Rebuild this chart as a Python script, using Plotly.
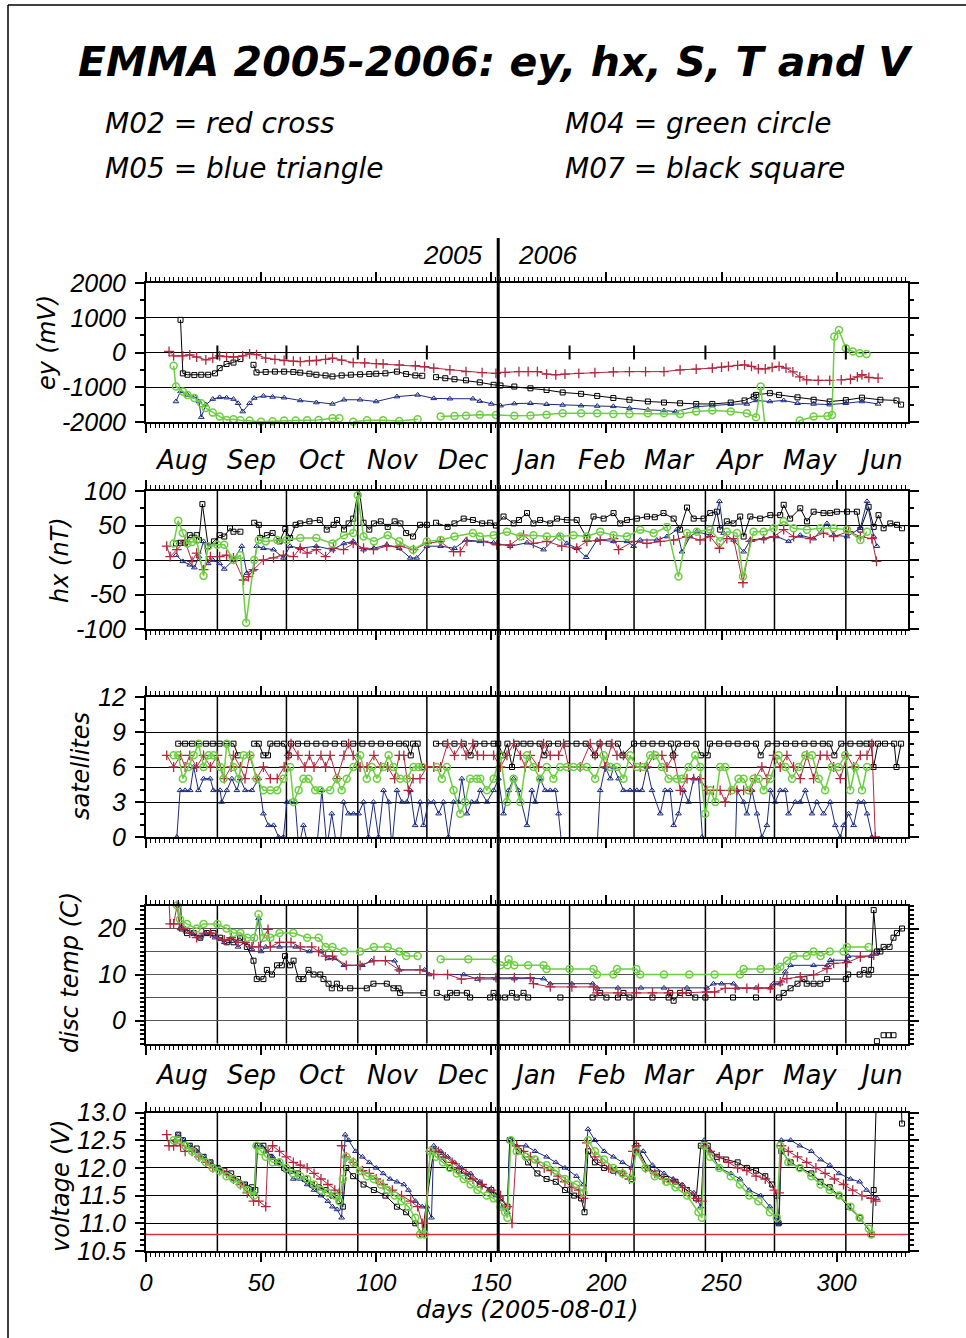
import plotly.graph_objects as go

W, H = 966, 1338
FN = "Liberation Sans"
FW = "DejaVu Sans"

# ---------------- data ----------------
month_edges = [0, 31, 61, 92, 122, 153, 184, 212, 243, 273, 304, 334]
month_names = ["Aug", "Sep", "Oct", "Nov", "Dec", "Jan", "Feb", "Mar", "Apr", "May", "Jun"]
year_boundary = 153
volt_threshold = 10.8
temp_grid = [0, 5, 10, 15, 20]
ey_ticks = [-2000, -1000, 0, 1000, 2000]
ey_ticklabels = ["-2000", "-1000", "0", "1000", "2000"]
hx_ticks = [-100, -50, 0, 50, 100]
hx_ticklabels = ["-100", "-50", "0", "50", "100"]

# ey (mV)
ey_m02 = [(10,30),(12,-100),(16,-100),(19,-70),(22,-130),(26,-210),(29,-160),(32,-100),(35,-120),(38,-130),(42,-100),(45,-40),(48,-60),(52,-160),(56,-200),(60,-230),(64,-250),(67,-260),(71,-240),(74,-230),(78,-200),(81,-160),(85,-220),(90,-290),(95,-300),(100,-320),(103,-330),(110,-355),(117,-380),(121,-410),(125,-450),(132,-500),(139,-550),(146,-580),(152,-600),(156,-570),(162,-550),(166,-550),(170,-550),(174,-620),(178,-640),(182,-620),(188,-600),(195,-580),(203,-560),(210,-550),(217,-550),(225,-550),(232,-500),(239,-480),(246,-450),(250,-420),(253,-400),(257,-370),(260,-355),(263,-400),(266,-470),(269,-470),(272,-430),(275,-400),(278,-450),(281,-560),(284,-700),(287,-790),(292,-800),(297,-800),(299,None),(302,-790),(306,-770),(309,-700),(311,-640),(314,-720),(318,-740)]
ey_m07 = [(15,940),(16,-600),(18,-640),(21,-650),(24,-640),(27,-640),(30,-600),(32,-450),(35,-330),(38,-290),(41,-190),(43,None),(46.7,-355),(48,-575),(52,-560),(56,-550),(60,-550),(64,-560),(67,-580),(71,-610),(74,-640),(78,-660),(81,-690),(85,-660),(89,-640),(93,-630),(97,-620),(100,-610),(104,-600),(109,-550),(113,-620),(117,-660),(120,-670),(123,None),(126,-710),(130,-740),(134,-770),(139,-800),(145,-860),(151,-930),(154,-950),(160,-980),(167,-1030),(174,-1080),(181,-1150),(189,-1190),(196,-1250),(203,-1310),(210,-1360),(218,-1410),(225,-1440),(232,-1460),(239,-1480),(246,-1480),(254,-1440),(260,-1380),(264,-1270),(265,-1220),(271,-1170),(275,-1220),(283,-1290),(290,-1360),(297,-1410),(304,-1370),(311,-1300),(319,-1360),(326,-1380),(328,-1500)]
ey_m05 = [(13,-1410),(15,-1120),(18,-1220),(21,-1270),(23,-1410),(24,-1860),(26,-1500),(29,-1340),(32,-1290),(35,-1300),(38,-1340),(40,-1460),(42,-1700),(45,-1460),(47,-1310),(51,-1250),(55,-1280),(60,-1300),(67,-1380),(74,-1440),(81,-1480),(86,-1360),(93,-1360),(100,-1410),(109,-1270),(118,-1220),(125,-1320),(132,-1330),(142,-1330),(145,-1400),(150,-1480),(154,-1530),(160,-1470),(167,-1460),(174,-1490),(181,-1510),(189,-1530),(196,-1540),(203,-1550),(210,-1600),(218,-1650),(225,-1670),(230,-1700),(239,-1560),(246,-1520),(254,-1490),(261,-1480),(265,-1380),(271,-1410),(277,-1380),(283,-1460),(290,-1480),(297,-1500),(304,-1460),(311,-1410),(318,-1480)]
ey_m04 = [(12,-380),(13,-980),(16,-1120),(18,-1220),(21,-1310),(24,-1460),(26,-1600),(29,-1730),(32,-1840),(35,-1940),(38,-1920),(41,-1950),(45,-1960),(50,-1990),(55,-1980),(60,-1960),(65,-1960),(70,-1950),(75,-1940),(81,-1890),(84,-1890),(86,None),(90,-1990),(96,-1950),(103,-1950),(110,-1970),(118,-1920),(121,None),(128,-1840),(134,-1830),(139,-1820),(145,-1790),(152,-1800),(160,-1820),(167,-1810),(174,-1790),(181,-1750),(189,-1750),(196,-1750),(203,-1770),(210,-1770),(218,-1750),(225,-1750),(232,-1770),(239,-1700),(246,-1670),(254,-1700),(261,-1750),(265,-1860),(267,-980),(269,-2180),(275,-2200),(278,-2250),(281,-2150),(284,-1960),(290,-1840),(296,-1830),(298,-1800),(299,460),(301,650),(304,125),(307,30),(310,-20),(313,-40)]

# hx (nT)
hx_m07 = [(13,24),(15,25),(17,25),(19,36),(22,36),(23,29),(24.5,81),(27,20),(29.5,27),(32,36),(34,34),(36.5,46),(38,41),(41,41),(43,None),(47,54),(49,51),(49.6,32),(52.5,36),(55,39),(58,27),(60.5,45),(62.6,32),(65,51),(67,53),(71,56),(75.5,58),(78.5,44),(81.5,51),(83,58),(86,44),(88,53),(90,60),(92.5,106),(94.5,54),(97,44),(99,53),(102,56),(105,48),(108,56),(110.5,53),(113,39),(116,34),(119,51),(122,51),(124,None),(126,54),(131,48),(134,53),(138,60),(142,58),(146,53),(149.5,54),(152,50),(155.3,63),(159.7,53),(162,58),(165.5,68),(168.3,53),(171.2,58),(175.6,53),(178.5,60),(182.8,58),(187.1,58),(191.5,32),(194.4,63),(198.8,60),(203.1,68),(206,53),(208.9,58),(213.2,60),(217.6,63),(221,62),(224.8,68),(229.2,60),(232,44),(235,76),(237.9,60),(242.2,60),(245.1,68),(248,70),(249.4,44),(252.3,56),(255.2,53),(258.1,63),(259.6,34),(262.5,63),(266.8,60),(271.2,65),(275.5,65),(277,80),(279.8,60),(284.2,75),(287.1,56),(290,70),(294.3,68),(297.2,68),(300.1,70),(304.5,70),(308.8,70),(310.3,44),(313.9,77),(316.1,48),(318.2,65),(320.4,46),(323.3,53),(326.2,51),(328.4,46)]
hx_m05 = [(13,7),(16,-2),(19,-7),(21,-11),(23,5),(25,27),(27,-5),(29,0),(32,-5),(34,-13),(38,0),(41.6,20),(43.8,-19),(46.7,-14),(48.1,20),(51,17),(55.4,15),(59.7,3),(62.6,20),(67,17),(74,20),(81,15),(86,24),(90,27),(94.5,15),(99,17),(104.6,22),(110,17),(114.8,3),(117.6,3),(122,20),(128,20),(134,17),(139,29),(145,27),(151,25),(158.2,20),(165.5,25),(172.7,15),(179.2,36),(182.8,24),(187.1,17),(191.2,4),(195.9,29),(203.1,27),(208.9,27),(211.8,20),(214.7,29),(221.9,29),(226.3,34),(230.6,44),(232.8,12),(236.4,34),(239.3,41),(245.1,36),(249.1,85),(250.9,39),(255.2,29),(259.6,12),(262.5,29),(268.3,31),(274,34),(279.1,27),(284.2,36),(290,31),(295.8,53),(298.7,36),(304.5,34),(310.3,46),(313.2,85),(316.1,34),(317.5,20)]
hx_m02 = [(9,20),(10.5,5),(13.4,15),(17,27),(20,-2),(22,10),(25,-14),(28,5),(32,5),(35,7),(38,3),(42.4,-29),(44.5,-24),(46.7,-14),(51,0),(55.4,3),(59.7,7),(64,5),(67,17),(70,10),(74,15),(78,5),(81.4,17),(85.8,15),(90,24),(94.5,17),(98.8,15),(104.6,20),(110.4,20),(116.2,15),(122,24),(127.8,27),(133.6,12),(136.5,12),(139.4,27),(146.6,27),(152.4,22),(158.2,22),(164,36),(168.3,24),(174.1,27),(180.6,20),(187.1,17),(191.5,27),(197.3,29),(203.1,31),(205.3,15),(211.8,27),(217.6,24),(223.4,27),(229.2,29),(235,34),(240.7,29),(245.1,34),(249.1,17),(252.3,31),(255.2,31),(259.3,-33),(262.5,27),(268.3,31),(272.6,34),(277,44),(281.3,34),(288.5,31),(294.3,39),(298.7,34),(305.2,41),(310.3,34),(315.3,31),(317.3,-2)]
hx_m04 = [(12,24),(14,57),(16,39),(18,24),(20,26),(22,29),(25,-23),(27,20),(31,22),(34,22),(38,0),(41,7),(43.5,-91),(47,0),(49,29),(52,27),(57,29),(61,29),(67,32),(74,32),(81,24),(86,36),(90,39),(92,94),(94.5,34),(99,27),(105,36),(110,27),(116,15),(122,27),(128,29),(134,34),(142,39),(145,34),(151,36),(156.8,41),(162.6,34),(168.3,36),(174.1,34),(179.9,34),(185.7,36),(191.5,34),(197.3,41),(203.1,36),(208.9,34),(214.7,44),(220.5,39),(226.3,48),(231.3,-24),(235,39),(239.3,41),(245.1,44),(249.4,27),(252.3,41),(256.7,39),(259.3,-24),(263.9,41),(268.3,41),(272.6,46),(277,56),(281.3,46),(287.1,44),(292.9,46),(298.7,46),(304.5,44),(310.3,29),(313.2,41)]

# satellites
sat_m07 = [(14,8),(17,8),(20,8),(23,8),(26,8),(29,8),(32,8),(35,8),(38,8),(40,7),(42,None),(47,8),(49,8),(51,7),(53,7),(54,8),(57,8),(60,8),(62,7),(63,8),(66,8),(70,8),(74,8),(78,8),(82,8),(86,8),(90,8),(94,8),(98,8),(102,8),(106,8),(110,8),(113,8),(115,7),(116,8),(118,8),(120,6),(123,None),(126,8),(130,8),(134,8),(138,8),(141,7),(143,8),(147,8),(151,8),(153,8),(155,7),(157,8),(159,6),(161,8),(164,8),(167,8),(171,8),(173,7),(175,8),(179,8),(183,8),(187,8),(191,8),(195,7),(197,8),(201,8),(205,8),(207,7),(212,8),(216,8),(220,8),(224,8),(228,8),(229,7),(231,8),(235,8),(239,8),(241,7),(244,7),(245,8),(249,8),(253,8),(257,8),(261,8),(265,8),(267,7),(270,8),(274,8),(278,8),(282,8),(286,8),(290,8),(294,8),(297,8),(299,7),(302,8),(306,8),(310,8),(313,8),(315,8),(316,6),(318,8),(321,8),(325,8),(326,6),(328,8)]
sat_m02 = [(9,7),(12,6),(15,7),(17,6),(19,7),(22,6),(25,7),(28,6),(31,7),(34,5),(37,6),(38,7),(41,6),(43,5),(45,7),(48,5),(51,6),(54,5),(57,5),(60,6),(62,7),(63,8),(66,7),(69,6),(71,7),(73,6),(76,7),(78,6),(80,7),(83,5),(86,7),(88,8),(90,7),(93,6),(96,6),(99,7),(102,6),(105,6),(108,5),(110,7),(112,7),(114,4),(116,5),(119,5),(122,6),(125,6),(128,6),(131,8),(134,7),(137,8),(139,7),(142,8),(144,7),(146.6,7),(151,7),(153.9,6),(156.8,7),(159.7,8),(162.6,7),(164.7,6),(166.9,7),(170.5,6),(172.7,8),(175.6,7),(179.2,7),(181.4,8),(183.6,6),(188.6,6),(193,8),(195.1,7),(197.3,8),(199.5,6),(202.4,8),(204.6,7),(207.4,7),(211.8,6),(214.7,6),(217.6,6),(220.5,7),(224.1,7),(226.3,6),(229.2,7),(232.1,4),(235,5),(237.9,5),(240.7,5),(243.6,4),(246.5,4),(249.4,4),(251.6,3),(253.8,4),(256.7,4),(259.6,4),(262.5,4),(264.6,5),(267.5,6),(269.7,5),(272.6,7),(275.5,6),(278.4,7),(281.3,6),(284.2,5),(287.1,7),(290,5),(292.9,7),(295.8,7),(298.7,6),(301.6,5),(304.5,7),(307.4,6),(310.3,7),(313.2,7),(315.3,8),(316.8,0)]
sat_m04 = [(12,7),(14,7),(16,5),(18.5,6),(20.7,7),(22.8,8),(25,6),(27.2,7),(29.3,7),(32.2,6),(33.7,5),(35.1,8),(38,6),(40.2,5),(42.4,7),(45.3,7),(48.1,5),(51,4),(54,4),(57,4),(59.7,5),(62.6,6),(64.1,3),(66.3,4),(68.4,5),(70.6,5),(73.5,4),(75.7,4),(80,4),(82.9,5),(85,4),(87.2,5),(90.1,6),(93,7),(95.9,5),(98.1,6),(100.3,5),(103.2,6),(105.4,7),(107.5,6),(110.4,5),(113.3,5),(116.2,6),(118.4,6),(120,6),(123,None),(126.3,6),(128.5,5),(130.7,6),(133.6,4),(136.5,2),(138.6,3),(140.8,5),(143.7,5),(145.2,5),(148.1,4),(151,5),(153.9,7),(156.8,3),(159.7,5),(162.6,3),(165.5,7),(168.3,6),(171.2,5),(174.1,6),(177,5),(179.9,6),(182.8,6),(185.7,6),(188.6,6),(191.5,6),(195.1,5),(198.8,7),(201.7,6),(204.6,6),(207.4,5),(210.3,7),(213.2,6),(216.1,6),(219,7),(221.2,7),(224.1,6),(227,5),(230.6,5),(232.8,5),(235.7,6),(238.6,7),(240.7,6),(242.9,2),(245.1,4),(247.3,3),(249.4,6),(251.6,6),(254.5,4),(257.4,5),(259.6,5),(261.7,4),(263.9,5),(266.1,5),(268.3,4),(271.2,5),(274.8,7),(277.7,6),(280.6,5),(283.5,6),(286.4,7),(289.3,7),(292.2,5),(295,4),(297.9,6),(300.8,6),(303.7,7),(305.9,4),(308.1,6),(311,4),(313.2,6)]
sat_m05 = [(13.4,0),(14.8,4),(17,4),(19.2,4),(20.7,6),(22.8,4),(25,5),(27.9,5),(29.3,4),(32.2,4),(32.9,3),(35.1,4),(37.3,5),(39.5,4),(40.9,5),(43.1,4),(46,4),(48.9,5),(51,2),(53.2,1),(55.4,1),(57.6,0),(59.7,0),(61.2,3),(62.6,3),(64.8,3),(66.3,-0.9),(68.4,1),(70.6,-0.9),(72,-0.9),(74.2,-0.9),(76.4,4),(78.6,-0.9),(80.7,2),(82.9,-0.9),(84.3,-0.9),(85.8,3),(87.9,2),(90.1,2),(92.3,2),(94.5,3),(96.6,0),(98.8,3),(101,0),(103.2,4),(105.4,3),(106.8,-0.9),(109,4),(111.2,3),(113.3,3),(114.8,4),(116.9,1),(119.1,3),(120.5,1),(122.7,3),(124.9,3),(127.1,2),(129.2,3),(131.4,0),(133.6,3),(135.7,3),(137.2,5),(139.4,2),(141.5,3),(143.7,3),(145.2,4),(148.1,3),(151,4),(153.1,5),(155.3,2),(157.5,4),(159.7,5),(161.8,4),(165.5,1),(167.6,4),(169.1,3),(171.2,5),(173.4,4),(175.6,4),(177.8,4),(179.2,2),(180.7,-0.9),(183,-0.9),(185,-0.9),(187,-0.9),(189,-0.9),(191,-0.9),(193,-0.9),(195.9,-0.9),(197.3,4),(199.5,6),(201.7,5),(203.1,6),(205.3,5),(207.4,4),(210.3,4),(213.2,4),(215.4,4),(217.6,6),(219.8,4),(223.4,2),(225.5,4),(227.7,4),(229.2,1),(231.3,2),(233.5,4),(235.7,3),(237.9,5),(240,5),(241.5,0),(242,-0.9),(244,-0.9),(246,-0.9),(248,-0.9),(250,-0.9),(252,-0.9),(254,-0.9),(256,-0.9),(256.7,4),(259.6,3),(261,2),(263.2,4),(265.4,2),(267.5,0),(269.7,1),(271.2,4),(273.3,3),(275.5,4),(277.7,4),(279.1,2),(282,3),(284.2,3),(286.4,4),(289.3,2),(291.4,3),(294.3,2),(297.2,3),(299.4,1),(301.6,0),(303,1),(305.2,2),(307.4,1),(309.5,3),(311.7,3),(313.2,2),(315.3,0),(316.5,-0.9),(318,-0.9)]

# disc temperature (C)
temp_m02 = [(8.9,35.9),(10,26),(10.5,21),(12,21),(13.5,25),(14.5,21),(16.3,20),(19,19),(22,18),(25,19),(28,19),(31,18),(34,17.5),(37,18),(40,17),(43,17),(46,16),(49,16),(53,19.8),(54,16),(58,17),(63,17),(67,16),(72,16),(75,15),(78,14),(81,14),(87,12),(93,12),(99,13),(104,13),(110,11),(119,11),(125,10),(131,10),(137,9),(145,9.3),(152,9.3),(160,9.3),(166.9,9.3),(168.3,8),(175.6,7.3),(185,7.3),(194.4,7.3),(195.9,6),(205,6),(213,6),(220,6),(227,6),(233,6),(243.6,6.2),(247,6.2),(251.6,7),(256,7),(261,7),(266,7),(271.2,7),(275.5,8.4),(278.4,9.1),(284.2,9.5),(290,9.9),(295.8,11.3),(298.7,12.4),(304.5,12.6),(310.3,13.8),(316.1,14.2)]
temp_m05 = [(13.4,29.1),(14,25),(14.8,20),(17,20),(20,19),(23,18),(26,19),(30,18),(34,17),(37,18),(40,16),(43,17),(46,15.5),(48.9,22.2),(50,15),(52,16),(58,16),(65,16),(71,15),(76,15),(79,13.5),(82,13.5),(86,12),(94,12),(98,13),(108,13),(110,11),(121,11),(123,10),(138,10),(144,9),(152,9.1),(160,9.1),(172.7,9.1),(175.6,8),(185,8),(194,8),(195.9,7.1),(205,7.1),(215,7.1),(225,7.1),(235,7.1),(243.6,7.1),(246.5,8),(250,8),(255.2,8),(256.7,7.1),(265,7.1),(271.2,7.1),(272.5,8),(275.5,8),(277.7,10.6),(280,12),(290,12),(296,12),(297.2,13.1),(304.5,13.1),(305,14),(315,14),(317,14.5)]
temp_m04 = [(12,34),(13.5,25),(14.8,22),(17.8,21),(22,20),(25,21),(31,21),(35,20),(38,19),(41,19),(44,18),(47,18),(48.9,23.1),(51,18),(54,18),(58,19),(64,19),(70,18),(75,18),(78,16),(81,16),(86,15),(93,15),(99,16),(105,16),(110,15),(113,14),(118,14),(121,None),(128,13.3),(140,13.3),(152,13.3),(154,12),(157,12),(157.5,13.3),(160,12),(166,12),(172.7,12),(174,11.2),(184,11.2),(194.4,11.2),(195.9,10),(203,10),(204.6,11.2),(213,11.2),(214.7,10),(225,10),(236,10),(247,10),(258,10),(259.6,11.2),(267,11.2),(274,11.2),(275.5,11.7),(278.4,13),(281.3,14),(287,14),(290,15),(293,14),(297,15),(303,15),(304.5,16),(313.9,16)]
temp_m07 = [(14.8,28.2),(15.5,20),(17.8,19),(20.7,19),(23.6,18),(26.4,19),(29.3,19),(32.2,18),(35.1,17),(38,17),(40.9,18),(43.8,16),(46.7,13),(48.1,9),(51,9),(52.5,11),(54.7,10),(56.9,12),(59,12),(60.4,14),(62.6,12),(64.1,13),(66.3,9),(68.4,9),(70.6,11),(72.8,10),(75.7,10),(77.1,9),(79.3,8),(80.7,7),(82.9,8),(84.3,7),(88.7,7),(95.9,7),(98.8,8),(104.6,8),(107.5,7),(109.7,7),(110.4,6),(120.5,6),(122,None),(126.3,6),(130.7,5),(132.1,6),(135,6),(139.4,6),(140.8,5),(149.5,5),(151,6),(153,5),(156,5),(159,6),(161,5),(164,6),(166,5),(180,5),(194,5),(197.3,6),(200,5),(205,5),(207.4,6),(210,5),(220,5),(227,5),(227.7,6),(229.2,4.3),(232,6),(235.7,6),(238.6,5),(243,5),(255,5),(265,5),(275,5),(277,6),(280,7),(283,8),(286,9),(287,8),(290,8),(292.9,8),(295.8,9),(304,9),(305,10),(310,10),(312,11),(313.9,10),(315,11),(316.1,24),(317.5,15),(319,15),(320.4,16),(323,16),(324.7,18),(326.2,19),(328.4,20)]
temp_m07_low = [(317.5,-4.5),(320.4,-3.2),(322.6,-3.2),(324.7,-3.2),(326.2,-6.9)]

# voltage (V)
volt_m02 = [(9,12.6),(10,12.4),(12,12.4),(13,12.5),(15,12.4),(17,12.3),(20,12.3),(23,12.2),(26,12.1),(29,12.0),(32,11.95),(35,11.9),(38,11.8),(41,11.7),(44,11.55),(46.7,11.4),(49,11.4),(52,11.3),(53,12.3),(55,12.4),(58,12.3),(61,12.2),(64,12.1),(67,12.05),(70,12.0),(73,11.9),(76,11.8),(79,11.7),(82,11.6),(84,11.55),(85,12.4),(87,12.2),(90,12.1),(94,11.95),(97,11.9),(100,11.8),(103,11.7),(107,11.6),(111,11.5),(115,11.4),(118,11.3),(120,11.0),(121,11.0),(123.5,12.3),(127,12.3),(130,12.2),(133,12.1),(136,12.0),(139,11.9),(142,11.8),(146,11.7),(150,11.6),(154,11.5),(157,11.3),(159,11.0),(161,12.4),(164,12.3),(167,12.2),(170,12.1),(173,12.0),(176,11.95),(179,11.85),(182,11.75),(185,11.65),(188,11.6),(190,11.45),(191.5,12.45),(195,12.2),(198,12.1),(201,12.0),(204,11.95),(207,11.9),(210,11.8),(211.5,12.3),(213,12.4),(217,12.0),(221,11.9),(225,11.8),(229,11.75),(233,11.65),(236,11.55),(239,11.45),(241.5,11.4),(242.5,12.4),(245,12.3),(249,12.2),(253,12.1),(257,12.0),(261,11.95),(265,11.85),(269,11.8),(273,11.6),(275,11.55),(276,12.4),(279,12.3),(283,12.2),(287,12.1),(291,12.0),(295,11.9),(299,11.8),(303,11.7),(307,11.6),(311,11.5),(315,11.45),(317,11.4)]
volt_m05 = [(12.7,12.5),(14,12.6),(16,12.5),(19,12.4),(22,12.3),(25,12.2),(28,12.1),(32,12.0),(35,11.9),(38,11.8),(41,11.75),(43,11.7),(46,11.6),(47,11.55),(48,12.4),(50,12.4),(52,12.3),(55,12.2),(58,12.1),(61,11.95),(64,11.8),(67,11.8),(70,11.7),(73,11.6),(76,11.5),(79,11.4),(81,11.3),(83,11.25),(85,11.1),(86.5,12.6),(88,12.5),(91,12.3),(94,12.2),(97,12.1),(100,12.0),(103,11.9),(106,11.8),(109,11.75),(112,11.7),(114,11.6),(117,11.4),(120,11.3),(122,11.3),(124,11.1),(125,12.4),(128,12.3),(131,12.2),(134,12.1),(137,12.0),(141,11.9),(145,11.75),(149,11.6),(152,11.5),(155,11.3),(157,11.2),(158,12.5),(161,12.4),(165,12.4),(169,12.3),(174,12.2),(178,12.1),(182,12.0),(187,11.85),(190,11.7),(192,12.7),(195,12.5),(199,12.3),(203,12.2),(207,12.1),(211,12.0),(213,12.3),(216,12.3),(220,12.05),(225,11.9),(229,11.8),(233,11.7),(238,11.55),(241,11.3),(242.5,12.5),(245,12.3),(249,12.0),(254,11.9),(258,11.8),(262,11.6),(267,11.5),(271,11.3),(274,11.1),(275,11.0),(276,12.5),(280,12.5),(284,12.4),(289,12.3),(293,12.15),(297,12.05),(301,11.9),(306,11.8),(310,11.75),(313,11.6),(317.5,11.45)]
volt_m04 = [(12,12.5),(14,12.5),(17,12.4),(20,12.3),(23,12.2),(26,12.1),(29,12.0),(32,11.95),(35,11.85),(38,11.8),(41,11.7),(44,11.6),(47,11.5),(48,12.4),(50,12.3),(52,12.2),(55,12.1),(58,12.1),(61,12.0),(64,11.9),(67,11.85),(70,11.8),(73,11.7),(76,11.6),(79,11.55),(82,11.5),(84,11.4),(85.5,11.8),(87,12.2),(90,12.1),(93,11.95),(96,11.85),(99,11.8),(102,11.7),(105,11.6),(108,11.5),(111,11.4),(114,11.3),(117,11.1),(119,10.8),(121,10.8),(123.5,12.3),(126,12.2),(129,12.1),(132,12.0),(135,11.9),(138,11.8),(141,11.7),(144,11.6),(148,11.5),(151,11.45),(154,11.3),(156,11.2),(157,11.1),(158.5,12.5),(161,12.3),(165,12.2),(169,12.15),(174,12.05),(178,11.95),(182,11.8),(187,11.7),(190,11.55),(192,12.5),(195,12.3),(199,12.15),(203,12.0),(207,11.9),(211,11.8),(213,12.3),(217,12.0),(221,11.85),(226,11.75),(230,11.65),(235,11.5),(240,11.2),(241.5,11.1),(242.5,12.4),(245,12.2),(249,12.0),(254,11.85),(258,11.7),(262,11.5),(266,11.4),(271,11.2),(274,11.1),(275.5,12.4),(279,12.1),(284,12.0),(289,11.85),(293,11.7),(297,11.6),(301,11.5),(306,11.3),(310,11.1),(314,10.9),(315,10.8)]
volt_m07 = [(14,12.6),(16,12.5),(19,12.4),(22,12.35),(25,12.2),(28,12.1),(31,12.0),(34,11.95),(37,11.9),(40,11.8),(43,11.7),(46,11.65),(47.5,11.6),(48.5,12.4),(51,12.4),(54,12.2),(57,12.1),(60,12.0),(63,11.95),(66,11.9),(69,11.8),(72,11.7),(75,11.65),(78,11.6),(81,11.5),(84,11.4),(85.5,11.3),(87,12.0),(90,11.85),(94.5,11.7),(99,11.6),(104,11.5),(109,11.3),(113,11.2),(117,11.0),(120,10.8),(124.9,12.3),(128,12.2),(132,12.0),(136,11.95),(140,11.85),(145,11.7),(150,11.6),(154,11.45),(157,11.3),(158,12.5),(162,12.3),(166,12.1),(170,11.9),(174,11.8),(178,11.75),(182,11.6),(186,11.5),(189,11.45),(190.5,11.2),(192,12.3),(195,12.1),(199,12.0),(203,11.95),(207,11.9),(211,11.8),(213,12.4),(218,12.0),(222,11.9),(226,11.8),(230,11.75),(235,11.6),(239,11.45),(241,12.4),(244,12.4),(248,12.2),(252,12.15),(257,12.1),(261,12.0),(265,11.95),(269,11.85),(272,11.7),(274,11.5),(274.8,11.0),(276,12.3),(280,12.1),(284,12.0),(289,11.9),(293,11.75),(297,11.65),(301,11.5),(305,11.3),(310,11.1),(315.3,10.8),(316.1,11.6),(317.5,13.6),(327.8,13.4),(328.4,12.8)]

# ---------------- figure ----------------
def px(x):
    return x / W

def py(y):
    return 1 - y / H

x_dom = [px(146), px(908)]
panel_px = [(283, 422), (491, 629), (697, 837), (905.5, 1043.5), (1112.5, 1251)]

styles = {
    "M07": dict(color="#000000", symbol="square-open", size=5, lw=1.0, line=1.0),
    "M05": dict(color="#1b2a80", symbol="triangle-up-open", size=5, lw=1.0, line=1.0),
    "M02": dict(color="#b3263e", symbol="cross-thin", size=7, lw=1.3, line=1.0),
    "M04": dict(color="#6ccf40", symbol="circle-open", size=7, lw=1.5, line=1.5),
}

fig = go.Figure()


def ax(i):
    return ("x" if i == 1 else f"x{i}"), ("y" if i == 1 else f"y{i}")


def add(series, st, panel, clip=False, mode="lines+markers"):
    s = styles[st]
    xa, ya = ax(panel)
    fig.add_trace(go.Scatter(
        x=[p[0] for p in series], y=[p[1] for p in series], mode=mode,
        xaxis=xa, yaxis=ya, cliponaxis=clip, showlegend=False, hoverinfo="skip",
        line=dict(color=s["color"], width=s["line"]),
        marker=dict(symbol=s["symbol"], size=s["size"], color=s["color"],
                    line=dict(color=s["color"], width=s["lw"])),
    ))


panel_data = [
    (ey_m07, ey_m05, ey_m02, ey_m04),
    (hx_m07, hx_m05, hx_m02, hx_m04),
    (sat_m07, sat_m05, sat_m02, sat_m04),
    (temp_m07, temp_m05, temp_m02, temp_m04),
    (volt_m07, volt_m05, volt_m02, volt_m04),
]
for i, (d7, d5, d2, d4) in enumerate(panel_data, start=1):
    clip = (i == 5)
    add(d7, "M07", i, clip)
    add(d5, "M05", i, clip)
    add(d2, "M02", i, clip)
    add(d4, "M04", i, clip)
add(temp_m07_low, "M07", 4, False, mode="markers")

# month marks on the ey zero line
month_starts = month_edges[1:-1]
ey_marks = [m for m in month_starts if m != year_boundary]
fig.add_trace(go.Scatter(
    x=ey_marks, y=[0] * len(ey_marks),
    mode="markers", xaxis="x", yaxis="y", showlegend=False, hoverinfo="skip",
    marker=dict(symbol="line-ns", size=10, line=dict(color="black", width=2)),
))

yspecs = [
    dict(range=[-2000, 2000], tickmode="array", tickvals=ey_ticks, ticktext=ey_ticklabels,
         minor=dict(tickmode="linear", tick0=0, dtick=500, ticklen=4, ticks="outside", tickcolor="black")),
    dict(range=[-100, 100], tickmode="array", tickvals=hx_ticks, ticktext=hx_ticklabels,
         minor=dict(tickmode="linear", tick0=0, dtick=25, ticklen=4, ticks="outside", tickcolor="black")),
    dict(range=[0, 12], dtick=3, tick0=0, minor=dict(dtick=1, ticklen=4, ticks="outside", tickcolor="black")),
    dict(range=[-5, 25], tickmode="array", tickvals=[0, 10, 20], showgrid=False,
         minor=dict(tickmode="linear", tick0=0, dtick=1, ticklen=4, ticks="outside", tickcolor="black")),
    dict(range=[10.5, 13.0], dtick=0.5, tick0=10.5, tickformat=".1f",
         minor=dict(dtick=0.1, tick0=10.5, ticklen=4, ticks="outside", tickcolor="black")),
]

tickfont = dict(family=FN, size=25, color="black", style="italic")
layout = dict(
    width=W, height=H, autosize=False,
    margin=dict(l=0, r=0, t=0, b=0, autoexpand=False),
    paper_bgcolor="white", plot_bgcolor="white",
    showlegend=False,
)
for i, (top, bot) in enumerate(panel_px, start=1):
    xa, ya = ax(i)
    xname = "xaxis" if i == 1 else f"xaxis{i}"
    yname = "yaxis" if i == 1 else f"yaxis{i}"
    layout[xname] = dict(
        domain=x_dom, anchor=ya, range=[0, 331], dtick=50, tick0=0, automargin=False,
        showline=True, linecolor="black", linewidth=2, mirror="ticks",
        ticks="outside", ticklen=9, tickwidth=1.5, tickcolor="black",
        minor=dict(dtick=2, tick0=0, ticklen=4, ticks="outside", tickcolor="black", tickwidth=1),
        showgrid=False, zeroline=False, showticklabels=(i == 5),
        tickfont=dict(family=FN, size=24, color="black", style="italic"),
    )
    yd = dict(
        domain=[py(bot), py(top)], anchor=xa, automargin=False,
        showline=True, linecolor="black", linewidth=2, mirror="ticks",
        ticks="outside", ticklen=9, tickwidth=1.5, tickcolor="black",
        showgrid=True, gridcolor="black", gridwidth=1, zeroline=False,
        tickfont=tickfont, ticklabelstandoff=4,
    )
    yd.update(yspecs[i - 1])
    layout[yname] = yd

fig.update_layout(**layout)

shapes = []
for i in range(2, 6):
    for m in month_starts:
        if m == year_boundary:
            continue
        shapes.append(dict(type="line", xref=f"x{i}", yref=f"y{i} domain", x0=m, x1=m, y0=0, y1=1,
                           line=dict(color="black", width=1.5), layer="below"))
for g in temp_grid:
    shapes.append(dict(type="line", xref="x4 domain", yref="y4", x0=0, x1=1, y0=g, y1=g,
                       line=dict(color="#555555", width=1), layer="below"))
shapes.append(dict(type="line", xref="x5 domain", yref="y5", x0=0, x1=1, y0=volt_threshold, y1=volt_threshold,
                   line=dict(color="#e0303a", width=1.5)))
shapes.append(dict(type="line", xref="x", yref="paper", x0=year_boundary, x1=year_boundary,
                   y0=py(1251), y1=py(238), line=dict(color="black", width=3)))
# outer frame: left and top edges
shapes.append(dict(type="line", xref="paper", yref="paper", x0=px(8), x1=px(8), y0=py(1338), y1=py(5),
                   line=dict(color="black", width=1.5)))
shapes.append(dict(type="line", xref="paper", yref="paper", x0=px(8), x1=px(966), y0=py(5), y1=py(5),
                   line=dict(color="black", width=1.5)))
fig.update_layout(shapes=shapes)

ann = []
ann.append(dict(text="EMMA 2005-2006: ey, hx, S, T and V", x=px(495), y=py(62), xref="paper", yref="paper",
                showarrow=False, xanchor="center", yanchor="middle",
                font=dict(family=FW, size=41, color="black", weight="bold", style="italic")))
legend_items = [("M02 = red cross", 103, 123), ("M04 = green circle", 563, 123),
                ("M05 = blue triangle", 103, 168), ("M07 = black square", 563, 168)]
for t, lx, ly in legend_items:
    ann.append(dict(text=t, x=px(lx), y=py(ly), xref="paper", yref="paper", showarrow=False,
                    xanchor="left", yanchor="middle", font=dict(family=FW, size=28, color="black", style="italic")))
ann.append(dict(text="2005", x=year_boundary, y=py(255), xref="x", yref="paper", xshift=-14, showarrow=False,
                xanchor="right", yanchor="middle", font=dict(family=FN, size=26, color="black", style="italic")))
ann.append(dict(text="2006", x=year_boundary, y=py(255), xref="x", yref="paper", xshift=18, showarrow=False,
                xanchor="left", yanchor="middle", font=dict(family=FN, size=26, color="black", style="italic")))
for ly in (460, 1075):
    for k, name in enumerate(month_names):
        mid = (month_edges[k] + month_edges[k + 1]) / 2
        ann.append(dict(text=name, x=mid, y=py(ly), xref="x", yref="paper", showarrow=False,
                        xanchor="center", yanchor="middle",
                        font=dict(family=FW, size=26, color="black", style="italic")))
ytitles = [("ey (mV)", 47, 343), ("hx (nT)", 60, 560), ("satellites", 81, 766),
           ("disc temp (C)", 70, 973), ("voltage (V)", 61, 1186)]
for t, tx, ty in ytitles:
    ann.append(dict(text=t, x=px(tx), y=py(ty), xref="paper", yref="paper", showarrow=False, textangle=-90,
                    xanchor="center", yanchor="middle",
                    font=dict(family=FW, size=24, color="black", style="italic")))
ann.append(dict(text="days (2005-08-01)", x=px(527), y=py(1310), xref="paper", yref="paper", showarrow=False,
                xanchor="center", yanchor="middle", font=dict(family=FW, size=24, color="black", style="italic")))
fig.update_layout(annotations=ann)

fig.write_html("out.html", config={"displayModeBar": False},
               post_script="document.body.style.margin='0px';document.body.style.overflow='hidden';")
